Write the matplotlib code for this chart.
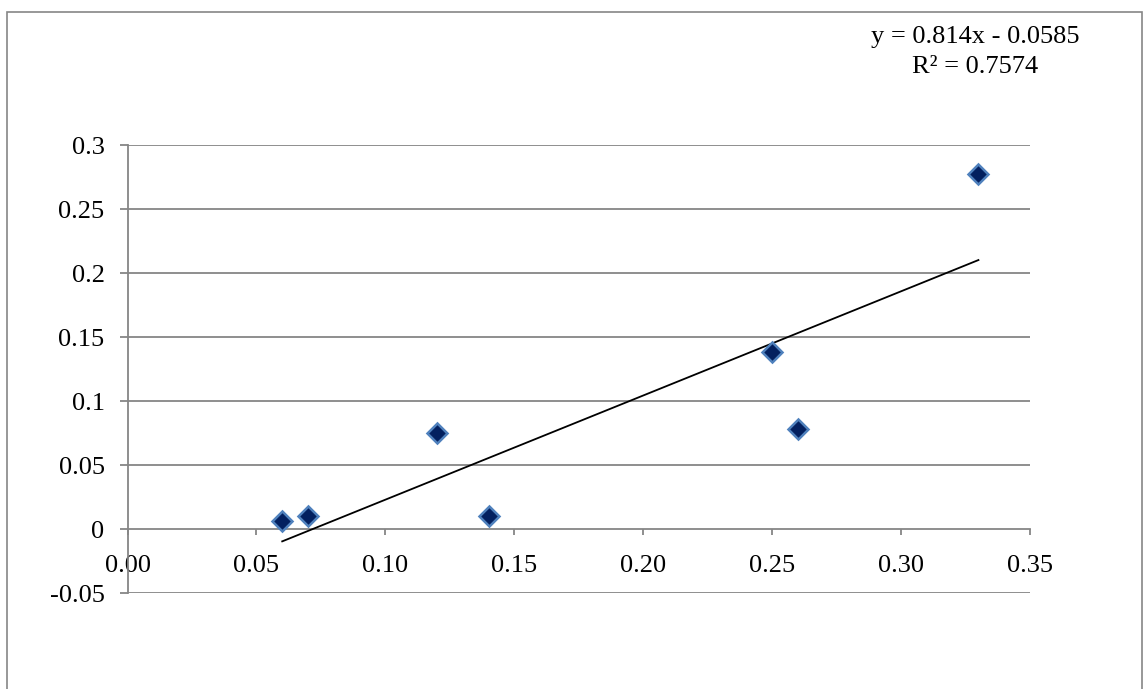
import matplotlib
matplotlib.use("Agg")
import matplotlib.pyplot as plt
from matplotlib.patches import Rectangle
from matplotlib.ticker import FixedLocator, FormatStrFormatter

x_vals = [0.06, 0.07, 0.12, 0.14, 0.25, 0.26, 0.33]
y_vals = [0.006, 0.010, 0.075, 0.010, 0.138, 0.078, 0.277]
slope = 0.814
intercept = -0.0585
r2 = 0.7574
x_ticks = [0.00, 0.05, 0.10, 0.15, 0.20, 0.25, 0.30, 0.35]
y_ticks = [-0.05, 0, 0.05, 0.1, 0.15, 0.2, 0.25, 0.3]
y_tick_labels = ["-0.05", "0", "0.05", "0.1", "0.15", "0.2", "0.25", "0.3"]

W, H = 1144, 689
fig = plt.figure(figsize=(W / 100, H / 100), dpi=100)
plt.rcParams['font.family'] = ['Liberation Serif', 'DejaVu Serif']

grey = '#868686'
fs = 19

# outer chart frame
fig.patches.append(Rectangle((7 / W, -0.02), (1142 - 7) / W, (H - 12) / H + 0.02,
                             transform=fig.transFigure, fill=False,
                             edgecolor=grey, linewidth=1.2))

left, right, top, bottom = 127.5, 1030, 145, 593
ax = fig.add_axes([left / W, 1 - bottom / H, (right - left) / W, (bottom - top) / H])
ax.set_xlim(0, 0.35)
ax.set_ylim(-0.05, 0.3)

# gridlines
for yv in y_ticks:
    if yv != 0:
        ax.axhline(yv, color=grey, linewidth=1.3, zorder=1)

for s in ['top', 'right']:
    ax.spines[s].set_visible(False)
ax.spines['bottom'].set_position(('data', 0))
ax.spines['bottom'].set_color(grey)
ax.spines['left'].set_color(grey)
ax.spines['bottom'].set_linewidth(1.3)
ax.spines['left'].set_linewidth(1.3)

ax.xaxis.set_major_locator(FixedLocator(x_ticks))
ax.xaxis.set_major_formatter(FormatStrFormatter('%.2f'))
ax.set_yticks(y_ticks)
ax.set_yticklabels(y_tick_labels)
ax.tick_params(axis='x', direction='out', length=4.5, width=1.3, color=grey,
               labelsize=fs, pad=14)
ax.tick_params(axis='y', direction='out', length=5.5, width=1.3, color=grey,
               labelsize=fs, pad=11)

# trendline
tx = [min(x_vals), max(x_vals)]
ty = [slope * v + intercept for v in tx]
ax.plot(tx, ty, color='black', linewidth=1.3, zorder=3)

ax.plot(x_vals, y_vals, linestyle='none', marker='D', markersize=10.5,
        markerfacecolor='#03205f', markeredgecolor='#4f81bd', markeredgewidth=1.8,
        zorder=4, clip_on=False)

fig.text(975 / W, 1 - 37 / H, f"y = {slope}x - {abs(intercept)}", ha='center', va='center',
         fontsize=fs)
fig.text(975 / W, 1 - 67 / H, f"R² = {r2}", ha='center', va='center', fontsize=fs)

fig.savefig('out.png', dpi=100)
